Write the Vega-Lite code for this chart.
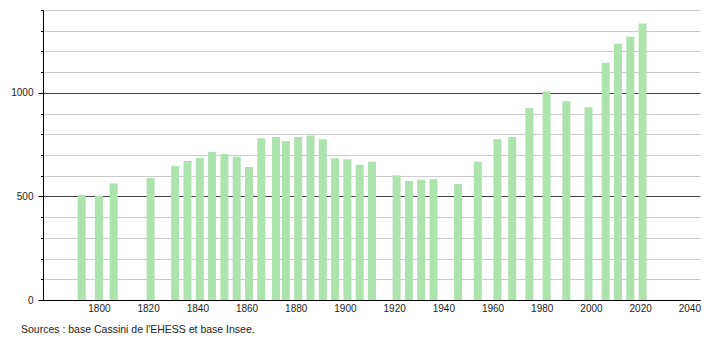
{
  "$schema": "https://vega.github.io/schema/vega-lite/v6.json",
  "width": 657,
  "height": 290,
  "autosize": {"type": "none"},
  "padding": {"left": 43, "top": 10, "right": 10, "bottom": 40},
  "background": "white",
  "data": {"values": [
    {"year": 1793, "pop": 507},
    {"year": 1800, "pop": 502},
    {"year": 1806, "pop": 562},
    {"year": 1821, "pop": 589},
    {"year": 1831, "pop": 647},
    {"year": 1836, "pop": 671},
    {"year": 1841, "pop": 686},
    {"year": 1846, "pop": 715},
    {"year": 1851, "pop": 705},
    {"year": 1856, "pop": 692},
    {"year": 1861, "pop": 642},
    {"year": 1866, "pop": 781},
    {"year": 1872, "pop": 787},
    {"year": 1876, "pop": 767},
    {"year": 1881, "pop": 787},
    {"year": 1886, "pop": 794},
    {"year": 1891, "pop": 776},
    {"year": 1896, "pop": 684},
    {"year": 1901, "pop": 680},
    {"year": 1906, "pop": 652},
    {"year": 1911, "pop": 667},
    {"year": 1921, "pop": 602},
    {"year": 1926, "pop": 575},
    {"year": 1931, "pop": 580},
    {"year": 1936, "pop": 583},
    {"year": 1946, "pop": 560},
    {"year": 1954, "pop": 667},
    {"year": 1962, "pop": 776},
    {"year": 1968, "pop": 787},
    {"year": 1975, "pop": 927},
    {"year": 1982, "pop": 1006},
    {"year": 1990, "pop": 960},
    {"year": 1999, "pop": 931},
    {"year": 2006, "pop": 1145},
    {"year": 2011, "pop": 1237},
    {"year": 2016, "pop": 1271},
    {"year": 2021, "pop": 1335}
  ]},
  "mark": {"type": "bar", "size": 8, "color": "#ade3ad"},
  "encoding": {
    "x": {
      "field": "year",
      "type": "quantitative",
      "scale": {"domain": [1779.3, 2042.3], "nice": false, "zero": false},
      "axis": {
        "values": [1800, 1820, 1840, 1860, 1880, 1900, 1920, 1940, 1960, 1980, 2000, 2020, 2040],
        "format": "d",
        "title": null,
        "ticks": false,
        "grid": false,
        "domainColor": "#000",
        "labelFont": "Liberation Sans",
        "labelFontSize": 10,
        "labelColor": "#222",
        "labelPadding": 3
      }
    },
    "y": {
      "field": "pop",
      "type": "quantitative",
      "scale": {"domain": [0, 1400], "nice": false},
      "axis": {
        "values": [0, 100, 200, 300, 400, 500, 600, 700, 800, 900, 1000, 1100, 1200, 1300, 1400],
        "labelExpr": "datum.value % 500 === 0 ? datum.label : ''",
        "format": "d",
        "title": null,
        "grid": true,
        "gridColor": {"condition": {"test": "datum.value % 500 === 0", "value": "#444444"}, "value": "#cccccc"},
        "tickSize": {"condition": {"test": "datum.value % 500 === 0", "value": 5}, "value": 2.5},
        "tickColor": "#000",
        "domainColor": "#000",
        "labelFont": "Liberation Sans",
        "labelFontSize": 10,
        "labelColor": "#222",
        "labelPadding": 5
      }
    }
  },
  "title": {
    "text": "Sources : base Cassini de l'EHESS et base Insee.",
    "orient": "bottom",
    "anchor": "start",
    "frame": "group",
    "dx": -22,
    "offset": 12,
    "fontSize": 10.5,
    "fontWeight": "normal",
    "font": "Liberation Sans",
    "color": "#222"
  },
  "config": {"view": {"stroke": null}}
}
